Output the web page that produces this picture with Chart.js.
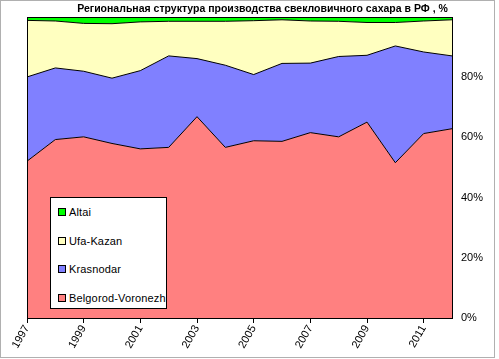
<!DOCTYPE html>
<html><head><meta charset="utf-8">
<script src="https://cdn.jsdelivr.net/npm/chart.js@4/dist/chart.umd.min.js"></script>
<style>
html,body{margin:0;padding:0;background:#fff;}
#wrap{position:relative;width:499px;height:359px;}
#legend{position:absolute;left:50px;top:197px;width:115px;height:110px;border:1px solid #000;background:#fff;font:11px "Liberation Sans",Arial,sans-serif;color:#000;letter-spacing:0.15px;}
#legend .it{position:absolute;left:7px;height:12px;line-height:12px;white-space:nowrap;}
#legend .sw{display:inline-block;width:6px;height:6px;border:1px solid #000;margin-right:3px;vertical-align:0px;}
</style></head>
<body><div id="wrap"><canvas id="c" width="499" height="359"></canvas><div id="legend"></div></div>
<script>
const years = ["1997","1998","1999","2000","2001","2002","2003","2004","2005","2006","2007","2008","2009","2010","2011","2012"];
const belgorodVoronezh = [52.1, 59.3, 60.2, 58.0, 56.2, 56.7, 66.9, 56.7, 58.9, 58.7, 61.6, 60.2, 65.1, 51.6, 61.3, 62.9];
const krasnodar = [28.0, 23.8, 21.8, 21.7, 26.0, 30.4, 19.3, 27.3, 22.0, 25.9, 23.1, 26.7, 22.2, 38.8, 27.1, 24.2];
const ufaKazan = [18.8, 15.6, 15.9, 18.1, 16.2, 11.5, 12.4, 14.6, 17.9, 14.5, 14.0, 11.7, 10.9, 7.8, 10.3, 12.0];
const altai = [1.1, 1.3, 2.1, 2.2, 1.6, 1.4, 1.4, 1.4, 1.2, 0.9, 1.3, 1.4, 1.8, 1.8, 1.3, 0.9];
const yTicks = [0, 20, 40, 60, 80, 100];
const seriesNames = ["Belgorod-Voronezh", "Krasnodar", "Ufa-Kazan", "Altai"];
const seriesColors = ["#FF8080", "#8080FF", "#FFFFC0", "#00FF00"];
const titleText = "Региональная структура производства свекловичного сахара в РФ , %";

const seriesData = [belgorodVoronezh, krasnodar, ufaKazan, altai];
const FONT = '"Liberation Sans", Arial, sans-serif';

const framePlugin = {
  id: 'frame',
  afterDraw(chart) {
    const ctx = chart.ctx, a = chart.chartArea;
    ctx.save();
    ctx.strokeStyle = '#000'; ctx.lineWidth = 1;
    ctx.strokeRect(Math.round(a.left) + 0.5, Math.round(a.top) + 0.5, Math.round(a.right - a.left), Math.round(a.bottom - a.top));
    ctx.strokeStyle = '#b0b0b0';
    ctx.strokeRect(0.5, 0.5, 494, 357);
    ctx.restore();
  }
};

new Chart(document.getElementById('c'), {
  type: 'line',
  data: {
    labels: years,
    datasets: seriesData.map((d, i) => ({
      label: seriesNames[i],
      data: d,
      backgroundColor: seriesColors[i],
      borderColor: '#000',
      borderWidth: 1,
      pointRadius: 0,
      tension: 0,
      fill: i === 0 ? 'origin' : '-1'
    }))
  },
  options: {
    responsive: false,
    animation: false,
    layout: { padding: { left: 27, right: 1, top: 0, bottom: 0 } },
    plugins: {
      legend: { display: false },
      tooltip: { enabled: false },
      title: {
        display: true, text: titleText, color: '#000',
        font: { family: FONT, size: 10.5, weight: 'bold', lineHeight: 1.15 },
        padding: { top: 3, bottom: 2 }
      }
    },
    scales: {
      x: {
        type: 'category',
        offset: false,
        grid: {
          drawOnChartArea: false, drawTicks: true, tickLength: 5,
          tickColor: (c) => (c.index % 2 === 0 ? '#000' : 'rgba(0,0,0,0)')
        },
        border: { display: true, color: '#000' },
        ticks: {
          autoSkip: false, maxRotation: 60, minRotation: 60, padding: 0,
          color: '#000', font: { family: FONT, size: 11 },
          callback: function (v, i) { return i % 2 === 0 ? this.getLabelForValue(v) : ''; }
        },
        afterFit: (s) => { s.height = 41; }
      },
      y: {
        position: 'right',
        stacked: true,
        min: 0, max: 100,
        afterBuildTicks: (s) => { s.ticks = yTicks.map(v => ({ value: v })); },
        grid: { drawOnChartArea: false, drawTicks: false },
        border: { display: true, color: '#000' },
        ticks: {
          padding: 9, color: '#000', font: { family: FONT, size: 11 },
          callback: (v) => (v === 100 ? '' : v + '%')
        },
        afterFit: (s) => { s.width = 46; }
      }
    }
  },
  plugins: [framePlugin]
});

const lg = document.getElementById('legend');
const tops = [8, 37, 65, 94];
for (let k = 0; k < 4; k++) {
  const i = 3 - k;
  const it = document.createElement('div');
  it.className = 'it';
  it.style.top = tops[k] + 'px';
  const sw = document.createElement('span');
  sw.className = 'sw';
  sw.style.background = seriesColors[i];
  it.appendChild(sw);
  it.appendChild(document.createTextNode(seriesNames[i]));
  lg.appendChild(it);
}
</script></body></html>
